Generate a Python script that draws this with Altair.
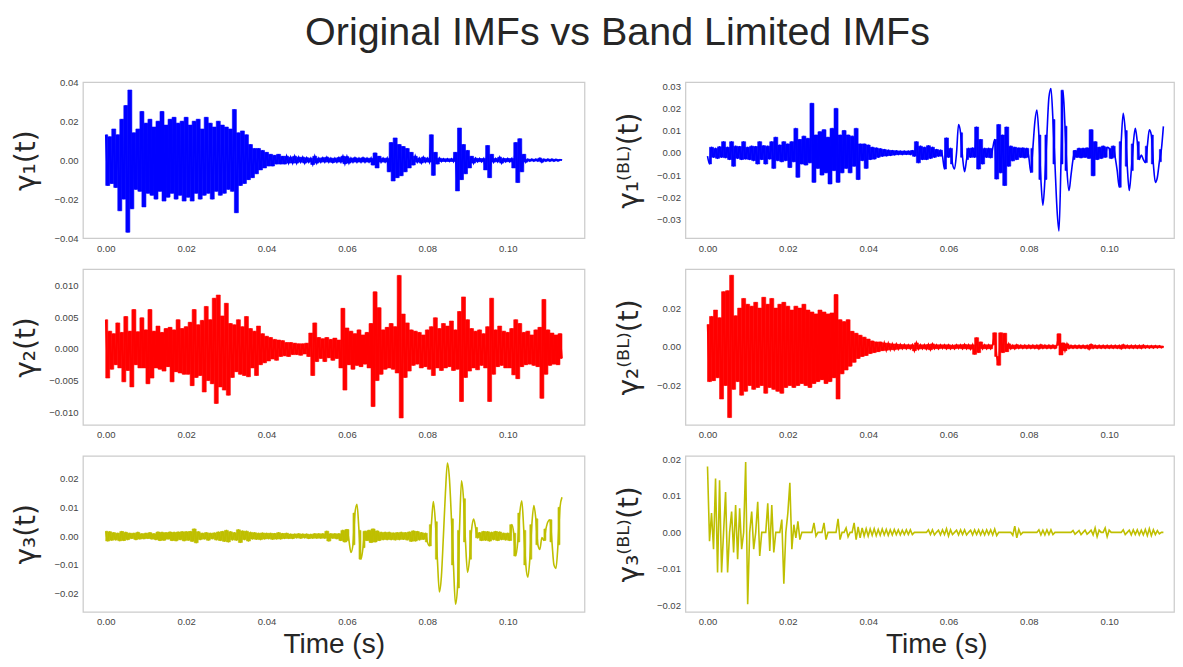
import altair as alt
import numpy as np
import pandas as pd

# sampling step of the signals (s)
DT = 0.0005

# ---- values, in units of 1e-3 ----
gamma1 = [
    13, -13, 12, -12, 16, -14, 13, -26, 21, -20, 28, -37, 36, -25, 14, -15, 16, -16, 25, -24,
    19, -17, 21, -18, 17, -20, 20, -16, 25, -21, 18, -19, 21, -17, 22, -20, 19, -18, 20, -21,
    22, -19, 18, -21, 20, -17, 21, -20, 16, -18, 22, -17, 19, -20, 17, -16, 20, -18, 18, -17,
    17, -15, 16, -16, 26, -27, 14, -13, 15, -12, 13, -10, 8, -9, 6, -7, 6, -5, 5, -4,
    4, -3, 3, -3, 2.5, -2, 3, -2, 2, -2, 2, -1.5, 1.5, -1.5, 2, -1.5, 1.5, -1, 1.5, -1.5,
    1.2, -1, 1, -2.2, 2, -1.5, 1, -1, 1.2, -1, 1.5, -1, 1, -1.2, 1, -1, 1.3, -1, 2, -1.8,
    1.8, -1.5, 1, -1, 1.2, -1, 1, -1, 1.2, -1, 1, -1, 1, -2.5, 3.7, -4, 2, -1, 1, -1,
    1, -6, 9, -10.7, 11.4, -9, 8, -8, 7, -6, 6, -4, 4, -2.5, 2, -1, 1, -1.5, 1.5, -1,
    1, -1, 13, -7.8, 4, -2, 1, -0.7, 0.7, -0.7, 0.7, -0.7, 0.7, -0.7, 4, -15.8, 16.5, -10, 8, -7,
    5, -4, 2, -1.5, 1, -0.8, 0.8, -0.8, 0.8, -5, 7.5, -9, 3, -1, 0.8, -0.8, 1.5, -1.5, 0.8, -0.8,
    0.8, -0.8, 0.8, -4, 9, -11.5, 11, -6, 3, -1, 0.5, -0.5, 0.5, -0.5, 0.5, -0.5, 1, -1, 0.5, -0.5,
    0.5, -0.5, 0.5, -0.5, 0.4, -0.4, 0.3, 0,
]

gamma2 = [
    4.6, -4.6, 2.8, -3.2, 2.4, -2.5, 4.1, -3.0, 2.6, -5.2, 5.1, -3.4, 2.8, -6.0, 6.2, -2.5, 2.7, -3.0, 4.9, -3.0,
    3.0, -5.5, 6.2, -4.6, 2.8, -3.0, 3.6, -3.2, 2.6, -3.5, 3.2, -2.8, 3.4, -5.2, 3.0, -3.6, 4.6, -3.8, 3.2, -4.0,
    3.5, -4.0, 4.2, -5.8, 6.2, -4.5, 3.8, -4.2, 4.5, -6.8, 6.7, -5.0, 4.6, -5.5, 8.0, -8.6, 8.5, -6.0, 5.2, -6.5,
    7.2, -7.3, 4.0, -4.5, 3.8, -3.6, 4.6, -4.0, 3.5, -4.2, 5.1, -4.4, 3.2, -3.0, 2.8, -4.2, 3.6, -2.5, 2.4, -2.2,
    2.0, -1.9, 1.8, -1.6, 1.5, -1.8, 1.4, -1.2, 1.3, -1.1, 1.0, -1.2, 1.0, -0.9, 0.9, -0.9, 0.8, -1.0, 0.8, -0.8,
    0.9, -1.2, 2.5, -4.2, 4.1, -2.0, 1.8, -1.5, 1.6, -2.0, 1.8, -1.4, 1.5, -1.8, 1.7, -1.5, 1.4, -3.0, 6.4, -6.5,
    3.3, -2.5, 2.8, -3.2, 2.4, -2.6, 3.0, -2.8, 2.2, -2.4, 2.6, -3.0, 4.0, -9.1, 9.0, -5.0, 6.5, -4.0, 3.0, -3.2,
    3.4, -3.0, 4.0, -3.2, 3.5, -3.8, 11.6, -10.9, 5.5, -4.5, 4.1, -3.5, 3.0, -2.6, 2.8, -2.4, 2.6, -3.0, 2.2, -2.8,
    3.0, -3.2, 3.5, -4.2, 4.9, -3.0, 3.2, -3.4, 4.0, -3.0, 3.6, -2.8, 4.4, -3.4, 3.0, -3.2, 5.9, -8.3, 8.2, -4.5,
    4.6, -3.5, 3.2, -3.0, 2.8, -3.3, 3.0, -2.6, 2.4, -3.0, 3.5, -8.3, 8.0, -4.0, 3.0, -2.8, 3.6, -2.6, 2.8, -3.0,
    2.6, -3.0, 3.2, -4.1, 4.6, -4.7, 4.0, -2.8, 2.6, -2.5, 2.8, -2.4, 2.2, -2.6, 3.0, -2.8, 3.4, -7.8, 7.8, -4.0,
    3.0, -2.6, 2.5, -2.4, 2.2, -2.5, 2.4, -1.5,
]

gamma3 = [
    1.7, -1.7, 1.5, -1.4, 1.2, -1.3, 1.0, -1.6, 1.6, -1.5, 1.3, -1.2, 1.0, -0.8, 1.0, -1.2, 1.3, -1.0, 0.8, -0.9,
    1.0, -0.8, 1.2, -1.0, 0.8, -1.2, 1.4, -1.5, 1.3, -1.4, 1.2, -1.0, 1.4, -1.5, 1.3, -1.6, 1.4, -1.2, 1.5, -1.6,
    1.5, -1.4, 1.6, -1.8, 2.5, -2.3, 1.5, -1.2, 1.0, -1.0, 1.2, -1.4, 1.0, -0.9, 1.1, -1.3, 1.4, -1.5, 1.6, -1.8,
    2.0, -2.0, 1.5, -1.3, 1.2, -1.4, 2.2, -2.2, 1.8, -1.2, 1.7, -1.7, 1.3, -1.0, 1.2, -1.1, 1.0, -1.2, 1.1, -1.0,
    1.0, -0.9, 1.0, -1.1, 0.9, -1.0, 1.2, -1.0, 0.9, -0.8, 1.0, -0.8, 0.7, -0.8, 0.7, -0.6, 0.8, -0.7, 0.7, -0.6,
    0.7, -0.8, 0.6, -0.7, 0.8, -0.7, 0.8, -0.7, 0.8, -0.7, 1.7, -1.7, 0.8, -0.7, 0.8, -0.9, 0.8, -1.5, 2.0, -2.0,
    2.3, -1.5, -5.7, -3.0, 8.0, 11.1, 2.0, -8.0, -4.0, 1.7, -1.5, 2.0, -2.2, 2.5, -2.0, 1.8, -1.5, 1.3, -1.2, 1.3,
    -1.2, 1.3, -1.2, 1.1, -1.3, 1.2, -1.2, 1.3, -1.1, 1.2, -1.3, 1.4, -1.8, 1.8, -1.7, 1.6, -1.3, 1.2, -1.1, 1.0,
    -2.0, -3.4, 4.0, 12.0, 5.0, -8.0, -19.4, -14.0, 0.0, 15.0, 25.4, 20.0, 6.0, -10.0, -23.7, -18.0, 2.0, 19.2, 13.0, -2.0,
    -12.6, -8.0, 2.0, 5.9, 3.0, -0.6, 1.2, -1.5, 1.6, -1.4, 1.5, -1.7, 1.3, -1.2, 1.6, -1.5, 1.4, -1.2, 1.0, -1.3,
    1.0, -1.5, 4.0, 1.0, -6.9, -2.0, 8.0, 12.3, 2.0, -10.0, -14.3, -8.0, 4.0, 10.6, 6.0, -3.0, -4.6, -0.5, -1.5, 2.5,
    5.0, 5.7, -2.0, -10.0, -11.2, -3.0, 10.0, 13.5,
]

gamma1_bl = [
    -1.5, -5.0, 2.5, -2.0, 2.0, -2.5, 2.7, -2.0, 5.0, -2.2, 2.5, -3.0, 5.0, -6.0, 3.0, -2.5, 2.8, -3.0, 5.0, -2.8,
    2.5, -3.0, 3.0, -3.5, 2.8, -5.0, 5.0, -3.0, 3.2, -5.0, 3.0, -2.8, 5.0, -7.0, 7.0, -3.5, 3.5, -4.0, 5.0, -3.5,
    4.0, -6.6, 5.0, -4.0, 11.0, -11.0, 6.0, -5.0, 7.5, -5.5, 6.5, -4.5, 22.3, -13.3, 8.0, -7.0, 9.5, -10.0, 10.4, -9.0,
    7.0, -14.0, 11.0, -8.0, 20.0, -13.3, 8.0, -9.0, 10.0, -7.0, 8.0, -9.0, 7.5, -6.0, 11.0, -12.0, 4.0, -3.5, 4.0, -7.0,
    3.5, -3.0, 2.5, -2.8, 2.2, -2.0, 1.8, -1.5, 1.5, -1.4, 1.2, -1.2, 1.0, -1.0, 0.9, -0.8, 0.8, -0.8, 0.8, -0.7,
    0.8, -0.8, 1.0, -1.5, 5.0, -4.5, 3.0, -3.0, 2.5, -3.0, 3.2, -2.5, 2.5, -2.0, 1.5, -1.5, 1.2, -1.5, -7.3, 6.7,
    -2.0, 2.0, -5.0, -7.3, 0.0, 12.7, 9.0, -2.0, -8.5, -3.0, 2.0, -2.0, 2.2, -2.0, 11.6, -7.3, 6.0, -5.0, 2.0, -2.0,
    2.0, -2.2, 2.0, 6.0, -11.8, 12.7, -9.0, 8.0, -14.7, 11.6, -6.0, 3.0, -3.6, 2.5, -3.0, 2.2, -2.0, 2.2, -2.2, 2.0,
    -2.0, -8.8, 2.0, 14.0, 19.3, 8.0, -12.0, -23.6, -12.0, 8.0, 25.0, 29.0, 15.0, -5.0, -25.0, -35.2, -5.0, 28.2, 12.0, -8.0,
    -17.0, -10.0, -3.0, 1.0, -2.0, 2.0, -2.2, 2.0, -2.0, 2.2, -2.5, 10.4, -10.3, 5.0, -3.0, 2.5, -2.5, 3.0, -2.0, 2.5,
    2.0, -2.5, 3.0, -2.0, -8.0, -15.5, 5.0, 17.8, 10.0, -6.0, -17.0, -8.0, 4.0, 11.0, 5.0, -3.0, -1.0, -3.0, -4.4, 3.0,
    10.4, 8.0, -5.0, -13.3, -11.0, -4.0, 1.5, 11.9,
]

gamma2_bl = [
    11.5, -18.0, 15.7, -17.5, 19.0, -16.0, 15.0, -27.0, 28.5, -20.0, 29.0, -36.6, 37.0, -22.0, 16.0, -18.0, 20.0, -25.0, 25.0, -23.0,
    22.0, -20.0, 21.0, -22.0, 23.0, -21.0, 20.0, -20.0, 25.6, -24.0, 22.0, -21.0, 25.0, -22.0, 20.0, -23.0, 22.0, -24.0, 23.0, -21.0,
    21.0, -20.0, 19.0, -21.0, 21.0, -20.0, 20.0, -19.0, 22.0, -20.0, 19.0, -21.0, 18.0, -19.0, 17.0, -18.0, 19.0, -17.0, 18.0, -19.0,
    17.0, -18.0, 17.5, -16.0, 27.0, -27.0, 14.0, -14.0, 13.0, -12.0, 14.0, -10.0, 8.0, -8.0, 7.0, -6.0, 6.0, -5.0, 5.0, -4.5,
    4.0, -3.5, 3.0, -3.0, 2.5, -2.5, 2.5, -2.0, 2.0, -1.8, 1.8, -1.5, 1.5, -1.5, 1.4, -1.2, 1.2, -1.0, 1.1, -1.0,
    1.0, -1.0, 1.0, -2.0, 2.0, -1.2, 1.0, -1.0, 1.0, -1.2, 1.2, -1.5, 1.5, -1.0, 1.0, -1.0, 1.0, -0.8, 1.0, -1.0,
    1.0, -1.0, 0.8, -1.0, 1.0, -0.8, 1.0, -1.0, 1.2, -1.0, 1.0, -1.2, 1.0, -3.9, 4.7, -3.0, 2.5, -1.0, 1.0, -1.0,
    1.0, -1.0, 1.0, 7.2, -5.0, -9.5, 7.2, -3.0, 7.0, -2.5, 1.5, -1.0, 0.8, -1.0, 1.0, -0.8, 0.8, -0.8, 0.8, -0.8,
    0.8, -0.8, 0.8, -0.8, 0.8, -1.0, 1.0, -0.8, 0.8, -0.8, 0.8, -0.8, 0.8, -0.8, 0.8, 6.7, -4.2, 2.0, -2.0, 1.5,
    -0.8, 0.7, -0.7, 0.7, -0.7, 0.7, -0.7, 0.7, -0.7, 0.7, -1.2, 1.2, -0.7, 0.7, -0.7, 0.7, -0.7, 0.7, -0.7, 0.7,
    -0.7, 0.7, -0.7, 0.7, -0.7, 0.7, -1.0, 1.0, -0.7, 0.7, -0.7, 0.7, -0.7, 0.7, -0.7, 0.7, -0.8, 0.8, -0.6, 0.6,
    -0.6, 0.6, -0.6, 0.6, -0.5, 0.5, -0.5, 0.3,
]

gamma3_bl = [
    18.1, -2.4, 5.3, -4.6, 14.8, -11.0, 14.3, -11.0, 0.0, 11.1, -11.0, 0.0, 5.7, -5.5, 7.5, -7.4, 6.6, -4.6, 0.0, 19.3,
    -19.7, 0.0, 5.7, -4.6, 0.0, 8.4, -6.5, 0.0, 0.0, 0.0, 8.0, -5.1, 7.5, -5.5, 0.0, 0.0, 0.0, 3.5, -14.1, 0.0,
    5.3, 13.6, -4.6, 2.1, -1.5, 3.0, -2.0, 0.0, 0.0, 0.0, 0.0, 0.0, 0.0, 2.6, -1.0, 0.0, 0.0, 0.0, 2.6, -2.0,
    0.0, 0.0, 0.0, 0.0, 0.0, 3.7, -2.0, 0.0, 0.0, 1.2, -1.2, 0.0, 0.0, 2.6, -2.0, 1.5, -1.5, 1.2, -1.0, 1.0,
    -1.0, 0.9, -0.8, 1.0, -0.9, 0.8, -0.8, 0.9, -0.7, 0.8, -0.8, 0.7, -0.7, 0.8, -0.6, 0.7, -0.7, 0.6, -0.6, 0.7,
    -0.6, 0.7, -0.6, 0.0, 0.0, 0.0, 0.0, 0.0, 0.0, 0.0, 0.7, -0.6, 0.7, -0.7, 0.0, 0.6, -0.7, 0.7, -0.6, 1.0,
    -1.0, 0.7, -0.6, 0.0, 0.6, -0.7, 0.7, -0.6, 0.7, -0.7, 0.0, 0.6, -0.7, 0.7, -0.6, 0.7, -0.7, 0.6, -0.7, 0.7,
    -0.6, 0.7, -0.7, 0.9, -0.9, 0.0, 0.0, 0.0, 0.0, 0.0, 0.0, 0.0, -0.8, 1.7, -1.5, 0.8, -0.6, 0.0, 0.0, 0.0,
    0.0, 0.0, 0.0, 0.0, 0.0, 0.7, -0.7, 0.6, -0.7, 0.7, -0.6, 0.7, -0.6, 0.0, 0.0, 0.0, 0.0, 0.0, 0.0, 0.0,
    0.0, 0.0, 0.5, -0.5, 0.0, 0.5, -0.6, 0.0, 0.6, -0.5, 0.0, 0.6, -0.7, 1.2, -1.2, 0.6, 0.0, 0.0, 1.2, -1.2,
    0.6, 0.0, 0.0, 0.0, 0.0, 0.0, 0.0, 0.7, -0.6, 0.0, 0.6, -0.7, 0.7, -0.6, 0.7, -0.7, 0.6, -0.7, 0.8, -0.9,
    1.0, -0.9, 0.7, -0.6, 0.5, -0.4, 0.0, 0.0,
]

x_ticks = [0.0, 0.02, 0.04, 0.06, 0.08, 0.10]
TITLE = "Original IMFs vs Band Limited IMFs"

H = 156
W_LEFT, W_RIGHT = 502, 489
X_DOMAIN_LEFT = [-0.00567, 0.1191]
X_DOMAIN_RIGHT = [-0.0055, 0.11614]


def panel(vals, color, ytitle, ydomain, yticks, yfmt, xtitle, interp,
          title_x, width, xdomain, fill):
    df = pd.DataFrame({
        "t": np.arange(len(vals)) * DT,
        "v": np.asarray(vals, dtype=float) / 1000.0,
    })
    if xtitle:
        xaxis = alt.Axis(values=x_ticks, format=".2f", title=xtitle,
                         titleFont="Liberation Sans", titleFontSize=28,
                         titleFontWeight="normal", titleColor="#262626",
                         titleX=251, titleY=41, titleAlign="center",
                         titleBaseline="alphabetic")
    else:
        xaxis = alt.Axis(values=x_ticks, format=".2f", title=None)
    yaxis = alt.Axis(values=yticks, format=yfmt, title=ytitle,
                     titleFont="DejaVu Sans", titleFontSize=28,
                     titleFontWeight="normal", titleColor="#262626",
                     titleAngle=270, titleX=title_x, titleY=H / 2,
                     titleAlign="center", titleBaseline="middle")
    xs = alt.Scale(domain=xdomain, nice=False, zero=False)
    ys = alt.Scale(domain=ydomain, nice=False, zero=False)
    base = alt.Chart(df)
    line = base.mark_line(
        color=color, strokeWidth=1.6, interpolate=interp, clip=True
    ).encode(
        x=alt.X("t:Q", scale=xs, axis=xaxis),
        y=alt.Y("v:Q", scale=ys, axis=yaxis),
    )
    layers = []
    if fill:
        # fill the span swept between consecutive samples of a dense oscillation
        band = base.transform_window(
            vn="lead(v)", tn="lead(t)", sort=[alt.SortField("t")]
        ).transform_filter("datum.vn != null")
        if fill == "cross":
            band = band.transform_filter("datum.v * datum.vn < 0")
        band = band.transform_calculate(
            hi="max(datum.v, datum.vn)", lo="min(datum.v, datum.vn)"
        ).mark_rect(color=color, stroke=color, strokeWidth=0.6, clip=True).encode(
            x=alt.X("t:Q", scale=xs, axis=xaxis),
            x2="tn:Q",
            y=alt.Y("hi:Q", scale=ys, axis=yaxis),
            y2="lo:Q",
        )
        layers.append(band)
    layers.append(line)
    return alt.layer(*layers).properties(width=width, height=H)


BLUE, RED, YEL = "#0000ff", "#ff0000", "#bfbf00"

p1 = panel(gamma1, BLUE, "γ₁(t)", [-0.04, 0.04], [-0.04, -0.02, 0, 0.02, 0.04], ".2f",
           None, "linear", -56, W_LEFT, X_DOMAIN_LEFT, "all")
p2 = panel(gamma2, RED, "γ₂(t)", [-0.0120, 0.0126], [-0.01, -0.005, 0, 0.005, 0.01], ".3f",
           None, "linear", -56, W_LEFT, X_DOMAIN_LEFT, "all")
p3 = panel(gamma3, YEL, "γ₃(t)", [-0.0263, 0.0279], [-0.02, -0.01, 0, 0.01, 0.02], ".2f",
           "Time (s)", "monotone", -56, W_LEFT, X_DOMAIN_LEFT, "cross")
p4 = panel(gamma1_bl, BLUE, "γ₁⁽ᴮᴸ⁾(t)", [-0.0384, 0.0318],
           [-0.03, -0.02, -0.01, 0, 0.01, 0.02, 0.03], ".2f",
           None, "monotone", -55.5, W_RIGHT, X_DOMAIN_RIGHT, "cross")
p5 = panel(gamma2_bl, RED, "γ₂⁽ᴮᴸ⁾(t)", [-0.0404, 0.0402], [-0.02, 0, 0.02], ".2f",
           None, "linear", -55.5, W_RIGHT, X_DOMAIN_RIGHT, "all")
p6 = panel(gamma3_bl, YEL, "γ₃⁽ᴮᴸ⁾(t)", [-0.0218, 0.0210], [-0.02, -0.01, 0, 0.01, 0.02], ".2f",
           "Time (s)", "linear", -55.5, W_RIGHT, X_DOMAIN_RIGHT, None)

chart = alt.concat(
    p1, p4, p2, p5, p3, p6, columns=2,
).properties(
    spacing={"row": 31, "column": 101},
    bounds="flush",
    padding={"left": 4, "top": 4, "right": 0, "bottom": 0},
    background="white",
    title=alt.TitleParams(TITLE, font="Liberation Sans", fontSize=39.5,
                          fontWeight="normal", color="#262626",
                          anchor="middle", offset=23, dx=24),
).configure_view(
    stroke="#cccccc", strokeWidth=1.25
).configure_axis(
    labelFont="Liberation Sans", labelFontSize=9.5, labelColor="#444444",
    ticks=False, domain=False, grid=False, labelPadding=5,
)

chart.save("out.html", embed_options={"renderer": "svg", "actions": False})
